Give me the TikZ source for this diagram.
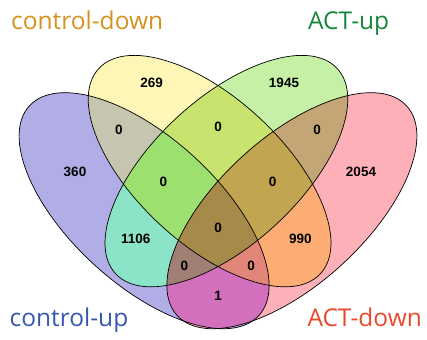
\documentclass[tikz,border=0pt]{standalone}
\usepackage{fontspec}
\setmainfont{Liberation Sans}
\newfontfamily\labfont{Open Sans}
\definecolor{cPu}{RGB}{177,173,230}
\definecolor{cYe}{RGB}{253,246,182}
\definecolor{cGr}{RGB}{198,240,166}
\definecolor{cPk}{RGB}{253,176,184}
\definecolor{cPuYe}{RGB}{198,197,175}
\definecolor{cPuGr}{RGB}{140,228,200}
\definecolor{cPuPk}{RGB}{210,112,190}
\definecolor{cYeGr}{RGB}{200,228,110}
\definecolor{cYePk}{RGB}{253,172,115}
\definecolor{cGrPk}{RGB}{196,165,118}
\definecolor{cPuYeGr}{RGB}{156,224,112}
\definecolor{cPuYePk}{RGB}{226,134,122}
\definecolor{cPuGrPk}{RGB}{160,128,116}
\definecolor{cYeGrPk}{RGB}{194,165,80}
\definecolor{cAll}{RGB}{166,138,74}
\definecolor{tCD}{RGB}{214,146,32}
\definecolor{tAU}{RGB}{24,135,62}
\definecolor{tCU}{RGB}{55,90,175}
\definecolor{tAD}{RGB}{232,74,46}
\newcommand\regfill[2]{\begin{scope}#1\fill[#2] (0,0) rectangle (427,339);\end{scope}}
\begin{document}
\begin{tikzpicture}[x=1pt,y=-1pt,
  outl/.style={draw=black, line width=0.7pt},
  num/.style={font=\bfseries\fontsize{13.5}{15}\selectfont, text=black, inner sep=0pt},
  setlab/.style={font=\labfont\fontsize{24.5}{28}\selectfont, anchor=base west, inner sep=0pt},
  gPu/.style={rotate around={-42.4:(144.1,210.7)}},
  gPk/.style={rotate around={42.4:(291.9,210.7)}},
  gYe/.style={rotate around={-42.8:(209.6,171.1)}},
  gGr/.style={rotate around={42.8:(226.4,171.1)}}]
\useasboundingbox (0,0) rectangle (427,339);
\fill[white] (0,0) rectangle (427,339);
\def\Pu{(144.1,210.7) ellipse [x radius=155.4pt, y radius=73.5pt]}
\def\Pk{(291.9,210.7) ellipse [x radius=155.4pt, y radius=73.5pt]}
\def\Ye{(209.6,171.1) ellipse [x radius=151pt, y radius=72.9pt]}
\def\Gr{(226.4,171.1) ellipse [x radius=151pt, y radius=72.9pt]}
% single sets
\fill[cPu,gPu] \Pu;
\fill[cPk,gPk] \Pk;
\fill[cYe,gYe] \Ye;
\fill[cGr,gGr] \Gr;
% pairs
\regfill{\clip[gPu]\Pu;\clip[gYe]\Ye;}{cPuYe}
\regfill{\clip[gPu]\Pu;\clip[gGr]\Gr;}{cPuGr}
\regfill{\clip[gPu]\Pu;\clip[gPk]\Pk;}{cPuPk}
\regfill{\clip[gYe]\Ye;\clip[gGr]\Gr;}{cYeGr}
\regfill{\clip[gYe]\Ye;\clip[gPk]\Pk;}{cYePk}
\regfill{\clip[gGr]\Gr;\clip[gPk]\Pk;}{cGrPk}
% triples
\regfill{\clip[gPu]\Pu;\clip[gYe]\Ye;\clip[gGr]\Gr;}{cPuYeGr}
\regfill{\clip[gPu]\Pu;\clip[gYe]\Ye;\clip[gPk]\Pk;}{cPuYePk}
\regfill{\clip[gPu]\Pu;\clip[gGr]\Gr;\clip[gPk]\Pk;}{cPuGrPk}
\regfill{\clip[gYe]\Ye;\clip[gGr]\Gr;\clip[gPk]\Pk;}{cYeGrPk}
% all four
\regfill{\clip[gPu]\Pu;\clip[gYe]\Ye;\clip[gGr]\Gr;\clip[gPk]\Pk;}{cAll}
% outlines
\draw[outl,gPu] \Pu;
\draw[outl,gPk] \Pk;
\draw[outl,gYe] \Ye;
\draw[outl,gGr] \Gr;
% counts
\node[num] (n269) at (151.7,82.7) {269};
\node[num] (n1945) at (284,82.7) {1945};
\node[num] (n360) at (75,171.7) {360};
\node[num] (n2054) at (361,171.7) {2054};
\node[num] (nPY) at (119,130) {0};
\node[num] (nYG) at (218,126.7) {0};
\node[num] (nGP) at (317,130) {0};
\node[num] (nPYG) at (163.5,181.7) {0};
\node[num] (nYGP) at (272.5,181.7) {0};
\node[num] (n1106) at (135.7,239) {1106};
\node[num] (nAll) at (218,228.3) {0};
\node[num] (n990) at (300.3,239) {990};
\node[num] (nPGK) at (184.3,265.7) {0};
\node[num] (nPYK) at (251,265.7) {0};
\node[num] (n1) at (218,296) {1};
% set labels
\node[setlab,text=tCD] (lcd) at (11,29.3) {control-down};
\node[setlab,text=tAU] (lau) at (308,29.3) {ACT-up};
\node[setlab,text=tCU] (lcu) at (9.5,326.7) {control-up};
\node[setlab,text=tAD] (lad) at (307.3,326.7) {ACT-down};
\end{tikzpicture}
\end{document}
